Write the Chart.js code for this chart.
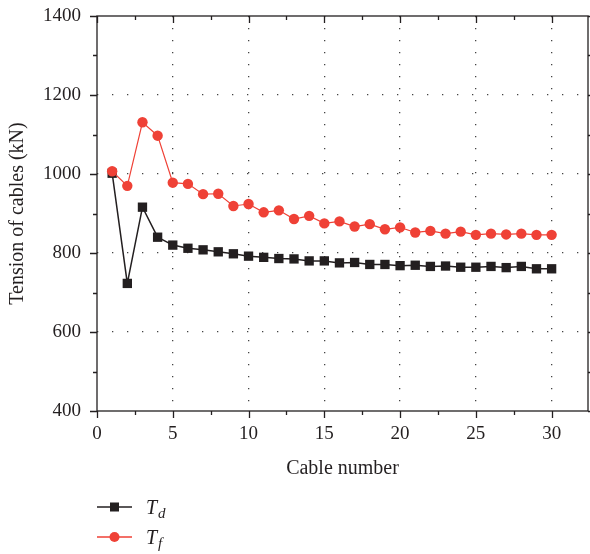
<!DOCTYPE html>
<html>
<head>
<meta charset="utf-8">
<script src="https://cdn.jsdelivr.net/npm/chart.js@4/dist/chart.umd.min.js"></script>
<style>
  html, body { margin: 0; padding: 0; background: #fff; }
  #wrap { position: relative; width: 590px; height: 554px; }
</style>
</head>
<body>
<div id="wrap"><canvas id="c" width="590" height="554"></canvas></div>
<script>
// Cable tension per cable number
const cableNumbers = [1, 2, 3, 4, 5, 6, 7, 8, 9, 10, 11, 12, 13, 14, 15,
                      16, 17, 18, 19, 20, 21, 22, 23, 24, 25, 26, 27, 28, 29, 30];
const tensionTd = [1002, 723, 916, 840, 820, 812, 808, 803, 798, 792, 789, 786, 785, 780, 780,
                   775, 776, 771, 771, 768, 769, 766, 767, 764, 764, 766, 763, 766, 760, 760];
const tensionTf = [1007, 970, 1131, 1097, 978, 975, 949, 950, 919, 924, 903, 908, 886, 894, 875,
                   880, 867, 873, 860, 865, 852, 856, 849, 854, 846, 849, 847, 849, 846, 846];
const xTickValues = [0, 5, 10, 15, 20, 25, 30];
const yTickValues = [400, 600, 800, 1000, 1200, 1400];

const SERIF = "'Liberation Serif', 'Times New Roman', serif";
const INK = '#231f20';
const RED = '#ef4136';

const toPoints = (ys) => cableNumbers.map((x, i) => ({ x, y: ys[i] }));

// keep the plot box where the layout padding puts it
const noEdgePadding = (scale) => {
  scale.paddingTop = 0; scale.paddingBottom = 0;
  scale.paddingLeft = 0; scale.paddingRight = 0;
};

// Frame, inner/outer tick marks and the legend
const framePlugin = {
  id: 'frame',
  afterDraw(chart) {
    const { ctx, chartArea: a, scales: { x, y } } = chart;
    ctx.save();
    ctx.strokeStyle = INK;
    ctx.lineWidth = 1.3;
    ctx.strokeRect(a.left, a.top, a.right - a.left, a.bottom - a.top);

    ctx.beginPath();
    for (let v = 0; v <= 32.5; v += 2.5) {
      const px = Math.round(x.getPixelForValue(v)) + 0.5;
      if (px > a.right + 1) break;
      const len = (v % 5 === 0) ? 7 : 4;
      ctx.moveTo(px, a.bottom); ctx.lineTo(px, a.bottom + len);
      ctx.moveTo(px, a.top); ctx.lineTo(px, a.top + len);
    }
    for (let v = 400; v <= 1400; v += 100) {
      const py = Math.round(y.getPixelForValue(v)) + 0.5;
      const len = (v % 200 === 0) ? 7 : 4;
      ctx.moveTo(a.left, py); ctx.lineTo(a.left - len, py);
      ctx.moveTo(a.right, py); ctx.lineTo(a.right + len, py);
    }
    ctx.stroke();

    // legend
    const items = [
      { sub: 'd', color: INK, style: 'rect', cy: 507 },
      { sub: 'f', color: RED, style: 'circle', cy: 537 }
    ];
    items.forEach(it => {
      ctx.strokeStyle = it.color;
      ctx.fillStyle = it.color;
      ctx.lineWidth = 1.5;
      ctx.beginPath();
      ctx.moveTo(97, it.cy); ctx.lineTo(132, it.cy);
      ctx.stroke();
      if (it.style === 'rect') {
        ctx.fillRect(114.5 - 4.5, it.cy - 4.5, 9, 9);
      } else {
        ctx.beginPath(); ctx.arc(114.5, it.cy, 5, 0, Math.PI * 2); ctx.fill();
      }
      ctx.fillStyle = INK;
      ctx.textBaseline = 'alphabetic';
      ctx.textAlign = 'left';
      ctx.font = 'italic 20px ' + SERIF;
      ctx.fillText('T', 146, it.cy + 7);
      ctx.font = 'italic 15px ' + SERIF;
      ctx.fillText(it.sub, 158, it.cy + 11);
    });
    ctx.restore();
  }
};

new Chart(document.getElementById('c'), {
  type: 'line',
  data: {
    datasets: [
      {
        label: 'Td',
        data: toPoints(tensionTd),
        borderColor: INK,
        backgroundColor: INK,
        borderWidth: 1.5,
        pointStyle: 'rect',
        pointRadius: 6.6,
        pointBorderWidth: 0,
        tension: 0,
        order: 2
      },
      {
        label: 'Tf',
        data: toPoints(tensionTf),
        borderColor: RED,
        backgroundColor: RED,
        borderWidth: 1.2,
        pointStyle: 'circle',
        pointRadius: 5.2,
        pointBorderWidth: 0,
        tension: 0,
        order: 1
      }
    ]
  },
  options: {
    responsive: false,
    animation: false,
    events: [],
    layout: { autoPadding: false, padding: { left: 0, right: 2, top: 16, bottom: 73 } },
    plugins: { legend: { display: false }, tooltip: { enabled: false } },
    scales: {
      x: {
        type: 'linear',
        min: 0,
        max: 32.4,
        afterFit(scale) { scale.height = 70; noEdgePadding(scale); },
        afterBuildTicks(scale) { scale.ticks = xTickValues.map(v => ({ value: v })); },
        ticks: {
          font: { family: SERIF, size: 19 },
          color: INK,
          padding: 12,
          maxRotation: 0,
          includeBounds: false,
          callback: (v) => String(v)
        },
        grid: {
          color: (ctx) => (ctx.tick && ctx.tick.value > 0 ? '#444' : 'rgba(0,0,0,0)'),
          lineWidth: 1.3,
          drawTicks: false
        },
        border: { display: false, dash: [1.3, 10.7] },
        title: {
          display: true,
          text: 'Cable number',
          font: { family: SERIF, size: 20 },
          color: INK,
          padding: { top: 0, bottom: 0 }
        }
      },
      y: {
        type: 'linear',
        min: 400,
        max: 1400,
        afterFit(scale) { scale.width = 97; noEdgePadding(scale); },
        afterBuildTicks(scale) { scale.ticks = yTickValues.map(v => ({ value: v })); },
        ticks: {
          font: { family: SERIF, size: 19 },
          color: INK,
          padding: 16,
          callback: (v) => String(v)
        },
        grid: {
          color: (ctx) => (ctx.tick && ctx.tick.value > 400 && ctx.tick.value < 1400 ? '#444' : 'rgba(0,0,0,0)'),
          lineWidth: 1.3,
          drawTicks: false
        },
        border: { display: false, dash: [1.3, 13.7] },
        title: {
          display: true,
          text: 'Tension of cables (kN)',
          font: { family: SERIF, size: 20 },
          color: INK,
          padding: { top: 6, bottom: 0 }
        }
      }
    }
  },
  plugins: [framePlugin]
});
</script>
</body>
</html>
